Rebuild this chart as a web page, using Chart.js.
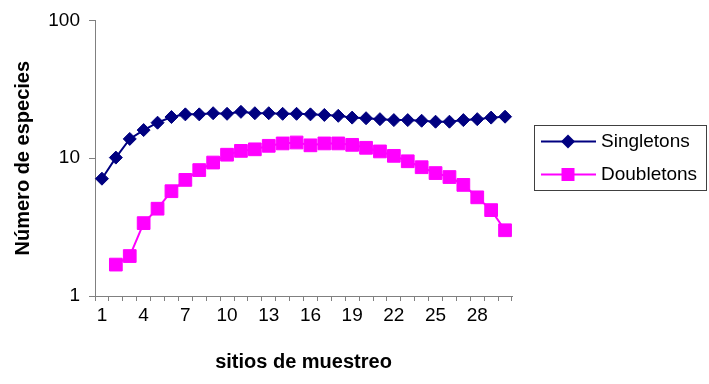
<!DOCTYPE html>
<html>
<head>
<meta charset="utf-8">
<script src="https://cdn.jsdelivr.net/npm/chart.js@4.4.1/dist/chart.umd.min.js"></script>
<style>
  html, body { margin: 0; padding: 0; background: #fff; }
  #wrap { width: 709px; height: 384px; position: relative; }
</style>
</head>
<body>
<div id="wrap"><canvas id="c" width="709" height="384"></canvas></div>
<script>
const categories = ['1','2','3','4','5','6','7','8','9','10','11','12','13','14','15','16','17','18','19','20','21','22','23','24','25','26','27','28','29','30'];
const xTickLabels = ['1','4','7','10','13','16','19','22','25','28'];
const yTickValues = [1, 10, 100];
const seriesNames = ['Singletons', 'Doubletons'];
const singletons = [7.1, 10.1, 13.8, 16.0, 18.1, 19.9, 20.8, 20.8, 21.2, 21.0, 21.7, 21.2, 21.2, 21.0, 21.0, 20.8, 20.6, 20.3, 19.7, 19.5, 19.2, 18.9, 18.9, 18.7, 18.4, 18.4, 18.9, 19.2, 19.7, 20.0];
const doubletons = [null, 1.69, 1.95, 3.38, 4.30, 5.76, 6.96, 8.2, 9.3, 10.6, 11.3, 11.6, 12.3, 12.8, 13.0, 12.4, 12.8, 12.8, 12.5, 11.9, 11.2, 10.4, 9.5, 8.6, 7.8, 7.3, 6.4, 5.2, 4.2, 3.0];

const FONT = '"Liberation Sans", Arial, sans-serif';
const AXIS = '#808080';

const boxLegend = {
  id: 'boxLegend',
  afterDraw(chart) {
    const ctx = chart.ctx;
    ctx.save();
    ctx.strokeStyle = '#404040';
    ctx.lineWidth = 1;
    ctx.strokeRect(534.5, 125.5, 172, 65);
    const ys = [141.5, 174.5];
    chart.data.datasets.forEach((ds, i) => {
      const y = ys[i];
      ctx.strokeStyle = ds.borderColor;
      ctx.lineWidth = 2;
      ctx.beginPath();
      ctx.moveTo(541, y);
      ctx.lineTo(596, y);
      ctx.stroke();
      ctx.fillStyle = ds.pointBackgroundColor;
      ctx.beginPath();
      const cx = 568;
      if (ds.pointStyle === 'rectRot') {
        const r = 7;
        ctx.moveTo(cx - r, y); ctx.lineTo(cx, y - r); ctx.lineTo(cx + r, y); ctx.lineTo(cx, y + r);
        ctx.closePath();
      } else {
        const s = 6.5;
        ctx.rect(cx - s, y - s, 2 * s, 2 * s);
      }
      ctx.fill();
      ctx.fillStyle = '#000';
      ctx.font = '19px ' + FONT;
      ctx.textBaseline = 'middle';
      ctx.textAlign = 'left';
      ctx.fillText(ds.label, 601, y);
    });
    ctx.restore();
  }
};

new Chart(document.getElementById('c'), {
  type: 'line',
  data: {
    labels: categories,
    datasets: [
      {
        label: seriesNames[0],
        data: singletons,
        borderColor: '#000080',
        backgroundColor: '#000080',
        pointBackgroundColor: '#000080',
        pointBorderColor: '#000080',
        pointStyle: 'rectRot',
        pointRadius: 6.5,
        pointBorderWidth: 1,
        borderWidth: 2,
        tension: 0
      },
      {
        label: seriesNames[1],
        data: doubletons,
        borderColor: '#FF00FF',
        backgroundColor: '#FF00FF',
        pointBackgroundColor: '#FF00FF',
        pointBorderColor: '#FF00FF',
        pointStyle: 'rect',
        pointRadius: 9,
        pointBorderWidth: 1,
        borderWidth: 2,
        tension: 0
      }
    ]
  },
  options: {
    responsive: false,
    animation: false,
    devicePixelRatio: 1,
    layout: { padding: { left: 0, top: 19, right: 197, bottom: 0 } },
    plugins: {
      legend: { display: false },
      tooltip: { enabled: false }
    },
    scales: {
      x: {
        type: 'category',
        offset: true,
        grid: { display: true, drawOnChartArea: false, offset: true, drawTicks: true, tickLength: 5, color: AXIS },
        border: { display: true, color: AXIS, width: 1 },
        ticks: {
          autoSkip: false,
          maxRotation: 0,
          minRotation: 0,
          padding: 3,
          color: '#000',
          font: { family: FONT, size: 19 },
          callback: function (value, index) {
            const lab = categories[index];
            return xTickLabels.includes(lab) ? lab : '';
          }
        },
        title: {
          display: true,
          text: 'sitios de muestreo',
          color: '#000',
          font: { family: FONT, size: 20, weight: 'bold' },
          padding: { top: 0, bottom: 10 }
        },
        afterFit(scale) { scale.height = 88; }
      },
      y: {
        type: 'logarithmic',
        min: 1,
        max: 100,
        afterBuildTicks(scale) { scale.ticks = yTickValues.map(v => ({ value: v })); },
        grid: { display: true, drawOnChartArea: false, drawTicks: true, tickLength: 6, color: AXIS },
        border: { display: true, color: AXIS, width: 1 },
        ticks: {
          padding: 9,
          color: '#000',
          font: { family: FONT, size: 19 },
          callback: function (value) { return String(value); }
        },
        title: {
          display: true,
          text: 'Número de especies',
          color: '#000',
          font: { family: FONT, size: 20, weight: 'bold' },
          padding: { top: 11, bottom: 0 }
        },
        afterFit(scale) { scale.width = 95; }
      }
    }
  },
  plugins: [boxLegend]
});
</script>
</body>
</html>
